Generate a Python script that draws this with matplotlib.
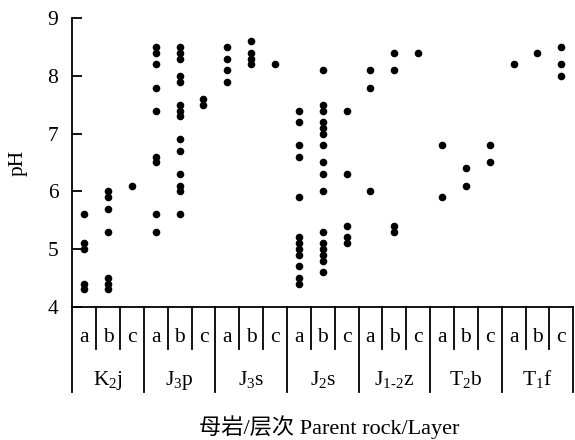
import matplotlib
matplotlib.use("Agg")
import matplotlib.pyplot as plt

plt.rcParams['font.family'] = ['Liberation Serif', 'Noto Sans CJK SC']
plt.rcParams['mathtext.fontset'] = 'custom'
plt.rcParams['mathtext.rm'] = 'Liberation Serif'
plt.rcParams['mathtext.it'] = 'Liberation Serif:italic'

# parent rock groups and soil layers
groups = [r'K$_2$j', r'J$_3$p', r'J$_3$s', r'J$_2$s', r'J$_{1\mathrm{\text{-}}2}$z', r'T$_2$b', r'T$_1$f']
layers = ['a', 'b', 'c']

# pH values for layer a, b, c of each parent rock
K2j = [[5.6, 5.1, 5.0, 4.4, 4.3],
       [6.0, 5.9, 5.7, 5.3, 4.5, 4.4, 4.3],
       [6.1]]
J3p = [[8.5, 8.4, 8.2, 7.8, 7.4, 6.6, 6.5, 5.6, 5.3],
       [8.5, 8.4, 8.3, 8.0, 7.9, 7.5, 7.4, 7.3, 6.9, 6.7, 6.3, 6.1, 6.0, 5.6],
       [7.6, 7.5]]
J3s = [[8.5, 8.3, 8.1, 7.9],
       [8.6, 8.4, 8.3, 8.2],
       [8.2]]
J2s = [[7.4, 7.2, 6.8, 6.6, 5.9, 5.2, 5.1, 5.0, 4.9, 4.7, 4.5, 4.4],
       [8.1, 7.5, 7.4, 7.2, 7.1, 7.0, 6.8, 6.5, 6.3, 6.0, 5.3, 5.1, 5.0, 4.9, 4.8, 4.6],
       [7.4, 6.3, 5.4, 5.2, 5.1]]
J12z = [[8.1, 7.8, 6.0],
        [8.4, 8.1, 5.4, 5.3],
        [8.4]]
T2b = [[6.8, 5.9],
       [6.4, 6.1],
       [6.8, 6.5]]
T1f = [[8.2],
       [8.4],
       [8.5, 8.2, 8.0]]

all_groups = [K2j, J3p, J3s, J2s, J12z, T2b, T1f]

fig = plt.figure(figsize=(5.75, 4.4), dpi=100)
ax = fig.add_axes([0.1257, 0.303, 0.8713, 0.6554])

col = 0
for g in all_groups:
    for vals in g:
        ax.scatter([col] * len(vals), vals, s=30, c='black', linewidths=0, zorder=5, clip_on=False)
        col += 1
ncol = col

ax.set_xlim(-0.5, ncol - 0.5)
ax.set_ylim(4, 9)
ax.set_yticks([4, 5, 6, 7, 8, 9])
ax.set_xticks([])
ax.tick_params(axis='y', direction='in', length=7, width=1.3, pad=10, labelsize=15.5)
for s in ['top', 'right']:
    ax.spines[s].set_visible(False)
for s in ['left', 'bottom']:
    ax.spines[s].set_linewidth(1.3)

# category table under the axis
tr = ax.get_xaxis_transform()
y_sub, y_grp = -0.147, -0.297
for i in range(ncol + 1):
    x = i - 0.5
    bottom = y_grp if i % 3 == 0 else y_sub
    ax.plot([x, x], [0, bottom], color='black', lw=1.3, transform=tr, clip_on=False)
for i in range(ncol):
    ax.text(i, -0.121, layers[i % 3], transform=tr, ha='center', va='baseline', fontsize=15.5)
for j, name in enumerate(groups):
    ax.text(3 * j + 1, -0.2715, name, transform=tr, ha='center', va='baseline', fontsize=15.5)

fig.text(18 / 575, 1 - 163 / 440, 'pH', rotation=90, ha='center', va='center', fontsize=15.5)
fig.text(329 / 575, 1 - 427 / 440, '母岩/层次 Parent rock/Layer', ha='center', va='center', fontsize=16)

fig.savefig('out.png', dpi=100)
